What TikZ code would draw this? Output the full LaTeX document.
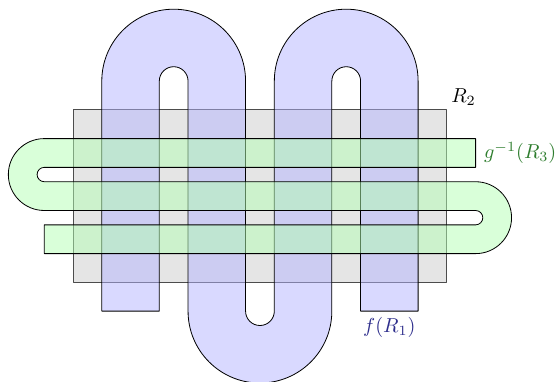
\documentclass[tikz,border=0pt]{standalone}
\usepackage{amsmath, amssymb}
\usepackage{xcolor}
\usepackage{tikz}
\usetikzlibrary{positioning}
\definecolor{rtwogray}{HTML}{CCCCCC}
\definecolor{fblue}{HTML}{B3B3FF}
\definecolor{ggreen}{HTML}{B3FFB3}
\definecolor{flabel}{HTML}{2E2E8C}
\definecolor{glabel}{HTML}{2E7D2E}

\begin{document}
\begin{tikzpicture}[x=0.5cm, y=0.5cm,
        region/.style={draw, fill opacity=0.5, line join=round},
        lbl/.style={inner sep=2pt}]
        \useasboundingbox (-2.54,-3.46) rectangle (16.83,9.82);
        % R_2
        \draw[region, fill=rtwogray, draw=black!70] (0,0) rectangle (13,6);
        % f(R_1)
        \draw[region, fill=fblue] (1,-1) -- (1,7) arc[start angle=180, end angle=0, radius=2.5]
          -- (6,-1) arc[start angle=180, end angle=360, radius=0.5]
          -- (7,7) arc[start angle=180, end angle=0, radius=2.5]
          -- (12,-1) -- (10,-1) -- (10,7) arc[start angle=0, end angle=180, radius=0.5]
          -- (9,-1) arc[start angle=0, end angle=-180, radius=2.5]
          -- (4,7) arc[start angle=0, end angle=180, radius=0.5]
          -- (3,-1) -- cycle;
        % g^{-1}(R_3)
        \draw[region, fill=ggreen] (14,5) -- (-1,5) arc[start angle=90, end angle=270, radius=1.25]
          -- (14,2.5) arc[start angle=90, end angle=-90, radius=0.25]
          -- (-1,2) -- (-1,1) -- (14,1) arc[start angle=-90, end angle=90, radius=1.25]
          -- (-1,3.5) arc[start angle=270, end angle=90, radius=0.25]
          -- (14,4) -- cycle;
        \coordinate (rtwo) at (13,6);
        \coordinate (fend) at (11,-1);
        \coordinate (gend) at (14,4.5);
        \node[lbl, anchor=south west] (rtwolbl) at (rtwo) {$R_2$};
        \node[lbl, text=flabel, below=1pt of fend] (flbl) {$f(R_1)$};
        \node[lbl, text=glabel, right=2pt of gend] (glbl) {$g^{-1}(R_3)$};
      \end{tikzpicture}
\end{document}
